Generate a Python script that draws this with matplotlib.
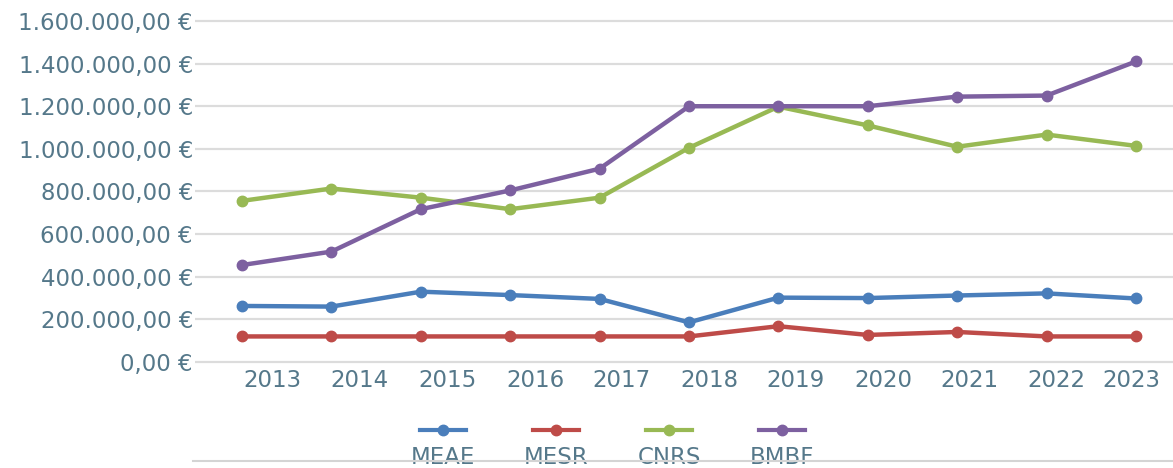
import matplotlib.pyplot as plt
from matplotlib.lines import Line2D
from matplotlib.transforms import blended_transform_factory, ScaledTranslation

years = [2013, 2014, 2015, 2016, 2017, 2018, 2019, 2020, 2021, 2022, 2023]
meae = [263000, 260000, 330000, 314000, 296000, 186000, 302000, 300000, 312000, 322000, 298000]
mesr = [120000, 120000, 120000, 120000, 120000, 120000, 168000, 127000, 141000, 120000, 120000]
cnrs = [756000, 814000, 771000, 717000, 771000, 1005000, 1198000, 1110000, 1010000, 1067000, 1014000]
bmbf = [455000, 518000, 717000, 805000, 907000, 1200000, 1200000, 1200000, 1245000, 1250000, 1410000]
names = ["MEAE", "MESR", "CNRS", "BMBF"]
yticks = [0, 200000, 400000, 600000, 800000, 1000000, 1200000, 1400000, 1600000]

colors = ["#4a7ebb", "#be4b48", "#98b954", "#7d60a0"]
txt_col = "#55788a"
fs = 16.5


def euro(v):
    s = "{:,.2f}".format(v)
    s = s.replace(",", "X").replace(".", ",").replace("X", ".")
    return s + " €"


fig = plt.figure(figsize=(11.73, 4.68), dpi=100)
ax = fig.add_axes([195 / 1173, 1 - 365 / 468, 1 - 195 / 1173, (365 - 15) / 468])

for vals, c in zip([meae, mesr, cnrs, bmbf], colors):
    ax.plot(years, vals, color=c, lw=3.2, marker="o", ms=7.5, zorder=3)

ax.set_xlim(2012.474, 2023.414)
ax.set_ylim(-14000, 1628000)
ax.set_yticks(yticks)
ax.set_yticklabels([euro(v) for v in yticks], fontsize=fs, color=txt_col)
ax.tick_params(axis="y", length=0, pad=1.5)
ax.set_xticks([])
ax.yaxis.grid(True, color="#dcdcdc", lw=1.6)
ax.set_axisbelow(True)
for s in ax.spines.values():
    s.set_visible(False)

# year labels (slightly shifted in the original)
shift_px = [30, 28, 27, 25, 22, 20, 17, 16, 12, 10, -5]
trans = blended_transform_factory(ax.transData, ax.transAxes)
for yr, dx in zip(years, shift_px):
    t = trans + ScaledTranslation(dx / 100, 0, fig.dpi_scale_trans)
    ax.text(yr, -0.012, str(yr), transform=t, ha="center", va="top",
            fontsize=fs, color=txt_col)

# legend: handle above, label below
W, H = 1173, 468
for i, (n, c) in enumerate(zip(names, colors)):
    xc = 443 + i * 113
    fig.add_artist(Line2D([(xc - 23) / W, (xc + 23) / W], [1 - 430 / H] * 2,
                          color=c, lw=3))
    fig.add_artist(Line2D([xc / W], [1 - 430 / H], color=c, marker="o", ms=7.5))
    fig.text(xc / W, 1 - 457 / H, n, ha="center", va="center",
             fontsize=fs, color=txt_col)

fig.add_artist(Line2D([193 / W, 1.0], [1 - 461 / H] * 2, color="#d4d4d4",
                      lw=1.5, zorder=5))

fig.savefig("out.png", dpi=100)
